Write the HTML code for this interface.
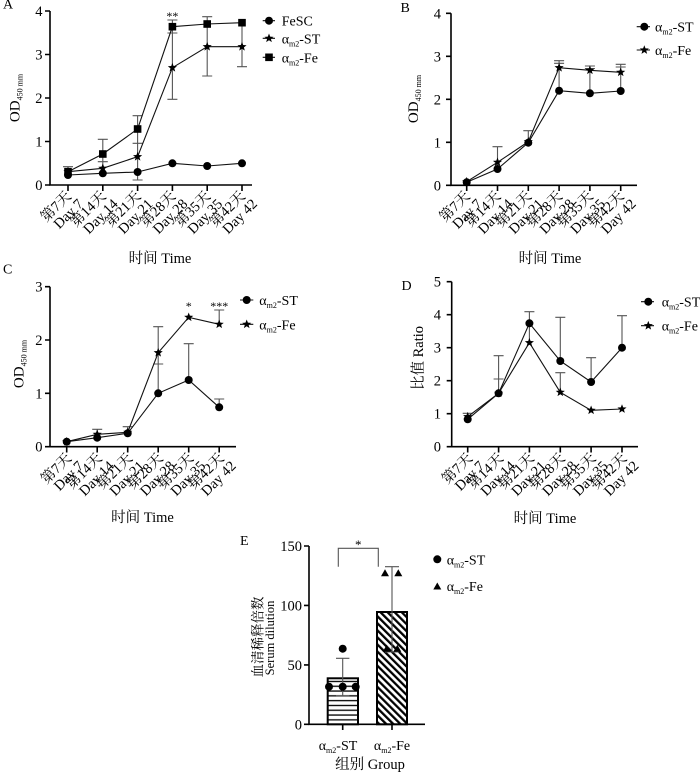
<!DOCTYPE html>
<html><head><meta charset="utf-8"><style>
html,body{margin:0;padding:0;background:#fff;}
svg{display:block;}
text{font-family:"Liberation Serif","Noto Serif CJK SC",serif;fill:#000;}
.ax{stroke:#000;stroke-width:1.6;fill:none;}
.ln{stroke:#111;stroke-width:1.1;fill:none;}
.eb{stroke:#555;stroke-width:1.1;fill:none;}
.tk{font-size:14.5px;}
.xl{font-size:14.5px;}
</style></head><body>
<svg width="700" height="774" viewBox="0 0 700 774" xmlns="http://www.w3.org/2000/svg">
<defs>
<path id="st" d="M0,-4.8 L1.2,-1.64 L4.56,-1.48 L1.93,0.63 L2.82,3.88 L0,2.0 L-2.82,3.88 L-1.93,0.63 L-4.56,-1.48 L-1.2,-1.64 Z" fill="#000"/>
<circle id="ci" r="4" fill="#000"/>
<rect id="sq" x="-3.8" y="-3.8" width="7.6" height="7.6" fill="#000"/>
<path id="tr" d="M0,-4 L4,3 L-4,3 Z" fill="#000"/>
<pattern id="hz" width="10" height="4.8" patternUnits="userSpaceOnUse" y="679">
<rect x="0" y="1.8" width="10" height="1.3" fill="#000"/>
</pattern>
<pattern id="dg" width="5" height="10" patternUnits="userSpaceOnUse" patternTransform="rotate(-45)">
<rect x="0" y="0" width="2.3" height="10" fill="#000"/>
</pattern>
</defs>

<!-- ================= PANEL A ================= -->
<text x="3" y="8.5" font-size="14">A</text>
<path class="ax" d="M50,11 V185 H252"/>
<path class="ax" d="M45,11 H50 M45,54.5 H50 M45,98 H50 M45,141.5 H50 M45,185 H50"/>
<path class="ax" d="M68,185 V191 M102.8,185 V191 M137.6,185 V191 M172.4,185 V191 M207.2,185 V191 M242,185 V191"/>
<g class="tk" text-anchor="end">
<text x="42.5" y="16">4</text><text x="42.5" y="59.5">3</text><text x="42.5" y="103">2</text><text x="42.5" y="146.5">1</text><text x="42.5" y="190">0</text>
</g>
<g class="xl" text-anchor="end">
<text transform="translate(72,197) rotate(-45)"><tspan x="0" y="0">第7天</tspan><tspan x="3" y="14">Day 7</tspan></text>
<text transform="translate(106.8,197) rotate(-45)"><tspan x="0" y="0">第14天</tspan><tspan x="3" y="14">Day 14</tspan></text>
<text transform="translate(141.6,197) rotate(-45)"><tspan x="0" y="0">第21天</tspan><tspan x="3" y="14">Day 21</tspan></text>
<text transform="translate(176.4,197) rotate(-45)"><tspan x="0" y="0">第28天</tspan><tspan x="3" y="14">Day 28</tspan></text>
<text transform="translate(211.2,197) rotate(-45)"><tspan x="0" y="0">第35天</tspan><tspan x="3" y="14">Day 35</tspan></text>
<text transform="translate(246,197) rotate(-45)"><tspan x="0" y="0">第42天</tspan><tspan x="3" y="14">Day 42</tspan></text>
</g>
<text x="160" y="263" font-size="14.5" text-anchor="middle">时间 Time</text>
<text transform="translate(19.5,98) rotate(-90)" font-size="15" text-anchor="middle">OD<tspan font-size="8" dy="3">450 mm</tspan></text>
<path class="eb" d="M68,166.7 V175 M63,166.7 H73
M102.8,139.3 V168 M97.8,139.3 H107.8 M97.8,161.7 H107.8
M137.6,115.7 V180 M132.6,115.7 H142.6 M132.6,143.3 H142.6 M132.6,180 H142.6
M172.4,20 V99.3 M167.4,20 H177.4 M167.4,33 H177.4 M167.4,99.3 H177.4
M207.2,16.7 V76 M202.2,16.7 H212.2 M202.2,76 H212.2
M242,22.7 V66.7 M237,66.7 H247"/>
<polyline class="ln" points="68,175 102.8,173.3 137.6,172 172.4,163.3 207.2,166 242,163.3"/>
<polyline class="ln" points="68,171.7 102.8,168.3 137.6,156.7 172.4,67.7 207.2,46.7 242,46.7"/>
<polyline class="ln" points="68,171.7 102.8,154 137.6,129 172.4,26.7 207.2,24 242,22.7"/>
<use href="#ci" x="68" y="175"/><use href="#ci" x="102.8" y="173.3"/><use href="#ci" x="137.6" y="172"/><use href="#ci" x="172.4" y="163.3"/><use href="#ci" x="207.2" y="166"/><use href="#ci" x="242" y="163.3"/>
<use href="#st" x="68" y="171.7"/><use href="#st" x="102.8" y="168.3"/><use href="#st" x="137.6" y="156.7"/><use href="#st" x="172.4" y="67.7"/><use href="#st" x="207.2" y="46.7"/><use href="#st" x="242" y="46.7"/>
<use href="#sq" x="68" y="171.7"/><use href="#sq" x="102.8" y="154"/><use href="#sq" x="137.6" y="129"/><use href="#sq" x="172.4" y="26.7"/><use href="#sq" x="207.2" y="24"/><use href="#sq" x="242" y="22.7"/>
<text x="172.4" y="20" font-size="12" text-anchor="middle">**</text>
<path class="ln" d="M262.7,20.7 H275 M262.7,38.3 H275 M262.7,57.3 H275"/>
<use href="#ci" x="269" y="20.7"/><use href="#st" x="269" y="38.3"/><use href="#sq" x="269" y="57.3"/>
<text x="281.7" y="25.7" font-size="14">FeSC</text>
<text x="281.7" y="43.3" font-size="14">α<tspan font-size="8" dy="3">m2</tspan><tspan dy="-3">-ST</tspan></text>
<text x="281.7" y="62.3" font-size="14">α<tspan font-size="8" dy="3">m2</tspan><tspan dy="-3">-Fe</tspan></text>

<!-- ================= PANEL B ================= -->
<text x="400.5" y="12" font-size="14">B</text>
<path class="ax" d="M451,13.3 V185.3 H637"/>
<path class="ax" d="M446,13.3 H451 M446,56.3 H451 M446,99.3 H451 M446,142.3 H451 M446,185.3 H451"/>
<path class="ax" d="M466.7,185.3 V191 M497.5,185.3 V191 M528.3,185.3 V191 M559.1,185.3 V191 M589.9,185.3 V191 M620.7,185.3 V191"/>
<g class="tk" text-anchor="end">
<text x="441" y="18.3">4</text><text x="441" y="61.3">3</text><text x="441" y="104.3">2</text><text x="441" y="147.3">1</text><text x="441" y="190.3">0</text>
</g>
<g class="xl" text-anchor="end">
<text transform="translate(470.7,197) rotate(-45)"><tspan x="0" y="0">第7天</tspan><tspan x="3" y="14">Day 7</tspan></text>
<text transform="translate(501.5,197) rotate(-45)"><tspan x="0" y="0">第14天</tspan><tspan x="3" y="14">Day 14</tspan></text>
<text transform="translate(532.3,197) rotate(-45)"><tspan x="0" y="0">第21天</tspan><tspan x="3" y="14">Day 21</tspan></text>
<text transform="translate(563.1,197) rotate(-45)"><tspan x="0" y="0">第28天</tspan><tspan x="3" y="14">Day 28</tspan></text>
<text transform="translate(593.9,197) rotate(-45)"><tspan x="0" y="0">第35天</tspan><tspan x="3" y="14">Day 35</tspan></text>
<text transform="translate(624.7,197) rotate(-45)"><tspan x="0" y="0">第42天</tspan><tspan x="3" y="14">Day 42</tspan></text>
</g>
<text x="550" y="263" font-size="14.5" text-anchor="middle">时间 Time</text>
<text transform="translate(418,99) rotate(-90)" font-size="15" text-anchor="middle">OD<tspan font-size="8" dy="3">450 mm</tspan></text>
<path class="eb" d="M497.5,146.7 V169 M492.5,146.7 H502.5
M528.3,130.7 V142.7 M523.3,130.7 H533.3
M559.1,60.7 V90.7 M554.1,60.7 H564.1 M554.1,63.3 H564.1
M589.9,66 V93.3 M584.9,66 H594.9 M584.9,68.5 H594.9
M620.7,64.3 V91 M615.7,64.3 H625.7 M615.7,67 H625.7"/>
<polyline class="ln" points="466.7,182.3 497.5,169 528.3,142.7 559.1,90.7 589.9,93.3 620.7,91"/>
<polyline class="ln" points="466.7,181.7 497.5,162.3 528.3,141.7 559.1,67.7 589.9,70.3 620.7,72.3"/>
<use href="#ci" x="466.7" y="182.3"/><use href="#ci" x="497.5" y="169"/><use href="#ci" x="528.3" y="142.7"/><use href="#ci" x="559.1" y="90.7"/><use href="#ci" x="589.9" y="93.3"/><use href="#ci" x="620.7" y="91"/>
<use href="#st" x="466.7" y="181.7"/><use href="#st" x="497.5" y="162.3"/><use href="#st" x="528.3" y="141.7"/><use href="#st" x="559.1" y="67.7"/><use href="#st" x="589.9" y="70.3"/><use href="#st" x="620.7" y="72.3"/>
<path class="ln" d="M636.7,26.7 H650 M636.7,50 H650"/>
<use href="#ci" x="644.3" y="26.7"/><use href="#st" x="644.3" y="50"/>
<text x="655" y="31.7" font-size="14">α<tspan font-size="8" dy="3">m2</tspan><tspan dy="-3">-ST</tspan></text>
<text x="655" y="55" font-size="14">α<tspan font-size="8" dy="3">m2</tspan><tspan dy="-3">-Fe</tspan></text>

<!-- ================= PANEL C ================= -->
<text x="3" y="273.5" font-size="14">C</text>
<path class="ax" d="M50,286.7 V446.7 H236"/>
<path class="ax" d="M45,286.7 H50 M45,340 H50 M45,393.3 H50 M45,446.7 H50"/>
<path class="ax" d="M66.7,446.7 V452.5 M97.2,446.7 V452.5 M127.7,446.7 V452.5 M158.2,446.7 V452.5 M188.7,446.7 V452.5 M219.2,446.7 V452.5"/>
<g class="tk" text-anchor="end">
<text x="42.5" y="291.7">3</text><text x="42.5" y="345">2</text><text x="42.5" y="398.3">1</text><text x="42.5" y="451.7">0</text>
</g>
<g class="xl" text-anchor="end">
<text transform="translate(72.2,459) rotate(-45)"><tspan x="0" y="0">第7天</tspan><tspan x="3" y="14">Day 7</tspan></text>
<text transform="translate(102.7,459) rotate(-45)"><tspan x="0" y="0">第14天</tspan><tspan x="3" y="14">Day 14</tspan></text>
<text transform="translate(133.2,459) rotate(-45)"><tspan x="0" y="0">第21天</tspan><tspan x="3" y="14">Day 21</tspan></text>
<text transform="translate(163.7,459) rotate(-45)"><tspan x="0" y="0">第28天</tspan><tspan x="3" y="14">Day 28</tspan></text>
<text transform="translate(194.2,459) rotate(-45)"><tspan x="0" y="0">第35天</tspan><tspan x="3" y="14">Day 35</tspan></text>
<text transform="translate(224.7,459) rotate(-45)"><tspan x="0" y="0">第42天</tspan><tspan x="3" y="14">Day 42</tspan></text>
</g>
<text x="142.5" y="522" font-size="14.5" text-anchor="middle">时间 Time</text>
<text transform="translate(23.5,364) rotate(-90)" font-size="15" text-anchor="middle">OD<tspan font-size="8" dy="3">450 mm</tspan></text>
<path class="eb" d="M97.2,429.3 V437.7 M92.2,429.3 H102.2
M127.7,426.7 V433.3 M122.7,426.7 H132.7
M158.2,326.7 V393.3 M153.2,326.7 H163.2 M153.2,364 H163.2
M188.7,343.7 V380 M183.7,343.7 H193.7
M219.2,310 V324.3 M214.2,310 H224.2 M219.2,399 V407.3 M214.2,399 H224.2"/>
<polyline class="ln" points="66.7,441.7 97.2,437.7 127.7,433.3 158.2,393.3 188.7,380 219.2,407.3"/>
<polyline class="ln" points="66.7,441.7 97.2,434.3 127.7,432.3 158.2,352.7 188.7,317.3 219.2,324.3"/>
<use href="#ci" x="66.7" y="441.7"/><use href="#ci" x="97.2" y="437.7"/><use href="#ci" x="127.7" y="433.3"/><use href="#ci" x="158.2" y="393.3"/><use href="#ci" x="188.7" y="380"/><use href="#ci" x="219.2" y="407.3"/>
<use href="#st" x="66.7" y="441.7"/><use href="#st" x="97.2" y="434.3"/><use href="#st" x="127.7" y="432.3"/><use href="#st" x="158.2" y="352.7"/><use href="#st" x="188.7" y="317.3"/><use href="#st" x="219.2" y="324.3"/>
<text x="188.7" y="310" font-size="12" text-anchor="middle">*</text>
<text x="219.2" y="310" font-size="12" text-anchor="middle">***</text>
<path class="ln" d="M240,300 H253.3 M240,324.3 H253.3"/>
<use href="#ci" x="246.7" y="300"/><use href="#st" x="246.7" y="324.3"/>
<text x="259.3" y="305" font-size="14">α<tspan font-size="8" dy="3">m2</tspan><tspan dy="-3">-ST</tspan></text>
<text x="259.3" y="329.3" font-size="14">α<tspan font-size="8" dy="3">m2</tspan><tspan dy="-3">-Fe</tspan></text>

<!-- ================= PANEL D ================= -->
<text x="401.5" y="290" font-size="14">D</text>
<path class="ax" d="M451.7,281.7 V446.7 H638"/>
<path class="ax" d="M446.7,281.7 H451.7 M446.7,314.7 H451.7 M446.7,347.7 H451.7 M446.7,380.7 H451.7 M446.7,413.7 H451.7 M446.7,446.7 H451.7"/>
<path class="ax" d="M467.7,446.7 V452.5 M498.6,446.7 V452.5 M529.4,446.7 V452.5 M560.3,446.7 V452.5 M591.1,446.7 V452.5 M622,446.7 V452.5"/>
<g class="tk" text-anchor="end">
<text x="441" y="286.7">5</text><text x="441" y="319.7">4</text><text x="441" y="352.7">3</text><text x="441" y="385.7">2</text><text x="441" y="418.7">1</text><text x="441" y="451.7">0</text>
</g>
<g class="xl" text-anchor="end">
<text transform="translate(473.2,459) rotate(-45)"><tspan x="0" y="0">第7天</tspan><tspan x="3" y="14">Day 7</tspan></text>
<text transform="translate(504.1,459) rotate(-45)"><tspan x="0" y="0">第14天</tspan><tspan x="3" y="14">Day 14</tspan></text>
<text transform="translate(534.9,459) rotate(-45)"><tspan x="0" y="0">第21天</tspan><tspan x="3" y="14">Day 21</tspan></text>
<text transform="translate(565.8,459) rotate(-45)"><tspan x="0" y="0">第28天</tspan><tspan x="3" y="14">Day 28</tspan></text>
<text transform="translate(596.6,459) rotate(-45)"><tspan x="0" y="0">第35天</tspan><tspan x="3" y="14">Day 35</tspan></text>
<text transform="translate(627.5,459) rotate(-45)"><tspan x="0" y="0">第42天</tspan><tspan x="3" y="14">Day 42</tspan></text>
</g>
<text x="545" y="523" font-size="14.5" text-anchor="middle">时间 Time</text>
<text transform="translate(423,358) rotate(-90)" font-size="14.5" text-anchor="middle">比值 Ratio</text>
<path class="eb" d="M467.7,413.3 V419.3 M462.7,413.3 H472.7
M498.6,355.7 V393.3 M493.6,355.7 H503.6 M493.6,379 H503.6
M529.4,311.7 V342.7 M524.4,311.7 H534.4
M560.3,317.3 V361 M555.3,317.3 H565.3 M560.3,372.7 V392.3 M555.3,372.7 H565.3
M591.1,357.7 V382 M586.1,357.7 H596.1
M622,315.7 V347.7 M617,315.7 H627"/>
<polyline class="ln" points="467.7,419.3 498.6,393.3 529.4,323.3 560.3,361 591.1,382 622,347.7"/>
<polyline class="ln" points="467.7,416.7 498.6,393.3 529.4,342.7 560.3,392.3 591.1,410.3 622,409"/>
<use href="#ci" x="467.7" y="419.3"/><use href="#ci" x="498.6" y="393.3"/><use href="#ci" x="529.4" y="323.3"/><use href="#ci" x="560.3" y="361"/><use href="#ci" x="591.1" y="382"/><use href="#ci" x="622" y="347.7"/>
<use href="#st" x="467.7" y="416.7"/><use href="#st" x="498.6" y="393.3"/><use href="#st" x="529.4" y="342.7"/><use href="#st" x="560.3" y="392.3"/><use href="#st" x="591.1" y="410.3"/><use href="#st" x="622" y="409"/>
<path class="ln" d="M641,301.7 H654 M641,325.7 H654"/>
<use href="#ci" x="648.3" y="301.7"/><use href="#st" x="648.3" y="325.7"/>
<text x="661.7" y="306.7" font-size="14">α<tspan font-size="8" dy="3">m2</tspan><tspan dy="-3">-ST</tspan></text>
<text x="661.7" y="330.7" font-size="14">α<tspan font-size="8" dy="3">m2</tspan><tspan dy="-3">-Fe</tspan></text>

<!-- ================= PANEL E ================= -->
<text x="240" y="545" font-size="14">E</text>
<path class="ax" d="M309,546 V724.3 H425"/>
<path class="ax" d="M304,546 H309 M304,605.4 H309 M304,664.9 H309 M304,724.3 H309"/>
<path class="ax" d="M342.7,724.3 V730 M392,724.3 V730"/>
<g class="tk" text-anchor="end">
<text x="302" y="551">150</text><text x="302" y="610.4">100</text><text x="302" y="669.9">50</text><text x="302" y="729.3">0</text>
</g>
<rect x="327.7" y="678.3" width="30.3" height="46" fill="#fff"/>
<rect x="327.7" y="678.3" width="30.3" height="46" fill="url(#hz)"/>
<rect x="327.7" y="678.3" width="30.3" height="46" fill="none" stroke="#000" stroke-width="2"/>
<rect x="377" y="612" width="30" height="112.3" fill="#fff"/>
<rect x="377" y="612" width="30" height="112.3" fill="url(#dg)"/>
<rect x="377" y="612" width="30" height="112.3" fill="none" stroke="#000" stroke-width="2"/>
<path class="eb" d="M342.7,658.3 V696 M336,658.3 H349.4 M336,696 H349.4
M392,566.7 V652 M385,566.7 H399 M385,652 H399"/>
<use href="#ci" x="329" y="686.7"/><use href="#ci" x="342.7" y="686.7"/><use href="#ci" x="355.7" y="686.7"/><use href="#ci" x="342.7" y="648.7"/>
<use href="#tr" x="385" y="573.3"/><use href="#tr" x="398.3" y="573.3"/>
<use href="#tr" x="386.7" y="648.7"/><use href="#tr" x="397.3" y="648.7"/>
<path d="M338.3,566.7 V548.3 H378.3 V566.7" fill="none" stroke="#555" stroke-width="1.1"/>
<text x="358.3" y="549" font-size="13" text-anchor="middle">*</text>
<text x="338" y="750" font-size="14" text-anchor="middle">α<tspan font-size="8" dy="3">m2</tspan><tspan dy="-3">-ST</tspan></text>
<text x="392" y="750" font-size="14" text-anchor="middle">α<tspan font-size="8" dy="3">m2</tspan><tspan dy="-3">-Fe</tspan></text>
<text x="370" y="769" font-size="14.5" text-anchor="middle">组别 Group</text>
<text transform="translate(262.5,637) rotate(-90)" font-size="13.5" text-anchor="middle">血清稀释倍数</text>
<text transform="translate(274,638) rotate(-90)" font-size="12.5" text-anchor="middle">Serum dilution</text>
<use href="#ci" x="437.3" y="559.3"/><use href="#tr" x="437.3" y="586.5"/>
<text x="446.7" y="564.3" font-size="14">α<tspan font-size="8" dy="3">m2</tspan><tspan dy="-3">-ST</tspan></text>
<text x="446.7" y="591" font-size="14">α<tspan font-size="8" dy="3">m2</tspan><tspan dy="-3">-Fe</tspan></text>
</svg>
</body></html>
